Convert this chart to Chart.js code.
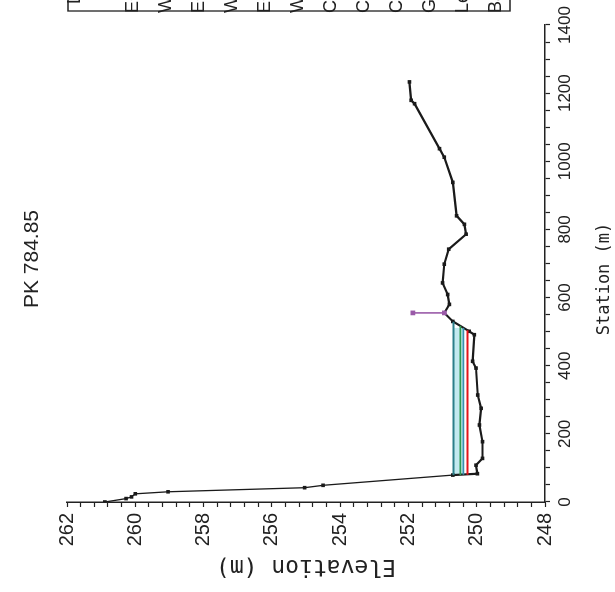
<!DOCTYPE html>
<html>
<head>
<meta charset="utf-8">
<script src="https://cdn.jsdelivr.net/npm/chart.js@4.4.1/dist/chart.umd.min.js"></script>
<style>
html, body { margin: 0; padding: 0; background: #fff; overflow: hidden; }
/* the scan is turned a quarter turn, so the whole chart is drawn upright and then rotated */
#wrap { position: absolute; left: 0; top: 0; width: 592px; height: 615px;
        transform-origin: 0 0; transform: translate(0, 592px) rotate(-90deg); }
</style>
</head>
<body>
<div id="wrap"><canvas id="xs" width="592" height="615"></canvas></div>
<script>
const plotTitle = 'PK 784.85';

// ground profile
const groundStation = [0, 10, 15, 24, 30, 42, 49, 79, 83, 108, 128, 177, 226, 275, 314, 393, 413, 491, 501,
                       530, 555, 580, 609, 643, 698, 742, 786, 815, 840, 938, 1012, 1037, 1169, 1179, 1233];
const groundElev = [260.89, 260.27, 260.11, 260.0, 259.04, 255.04, 254.5, 250.7, 249.98, 250.02, 249.83, 249.83,
                    249.92, 249.87, 249.97, 250.02, 250.12, 250.07, 250.22, 250.7, 250.95, 250.8, 250.85, 251.0,
                    250.95, 250.82, 250.31, 250.36, 250.59, 250.7, 250.95, 251.09, 251.82, 251.92, 251.97];

// water surface / energy lines
const profNames = ['EG PF 1', 'EG PF 2', 'WS PF 1', 'Crit PF 1'];
const profElev = [250.68, 250.48, 250.39, 250.27];
const profStart = [79, 79, 80, 80];
const profEnd = [529, 517, 511, 504];
const profColors = ['#2b7f8a', '#2f9a4f', '#3a8fb0', '#e3141b'];

// levee
const leveeStation = [555, 555];
const leveeElev = [250.95, 251.87];

const legendNames = ['EG PF 3', 'WS PF 3', 'EG PF 2', 'WS PF 2', 'EG PF 1', 'WS PF 1',
                     'Crit PF 3', 'Crit PF 2', 'Crit PF 1', 'Ground', 'Levee', 'Bank Sta'];

const fam = '"Liberation Sans", Arial, sans-serif';
const mono = '"DejaVu Sans Mono", "Liberation Mono", monospace';
const ink = '#222';

let datasets = [];
profNames.forEach((n, i) => datasets.push({
    label: n,
    data: [{x: profStart[i], y: profElev[i]}, {x: profEnd[i], y: profElev[i]}],
    borderColor: profColors[i],
    borderWidth: 1.8,
    pointRadius: 0,
    fill: i === 0 ? {target: 2} : false,
    backgroundColor: '#c3eaf0'
}));
datasets.push({
    label: 'Levee',
    data: leveeStation.map((s, i) => ({x: s, y: leveeElev[i]})),
    borderColor: '#9a5aa8',
    backgroundColor: '#9a5aa8',
    borderWidth: 1.6,
    pointStyle: 'rect',
    pointRadius: 2.2
});
datasets.push({
    label: 'Ground',
    data: groundStation.map((s, i) => ({x: s, y: groundElev[i]})),
    borderColor: '#1a1a1a',
    backgroundColor: '#1a1a1a',
    pointStyle: 'rect',
    pointRadius: 1,
    borderWidth: 2.2,
    segment: {
        borderWidth: ctx => ctx.p0.parsed.x < 79 ? 1.3 : 2.2
    }
});

// title, station label and the cut-off legend box at the right edge
const extras = {
    id: 'extras',
    afterDraw(chart) {
        const c = chart.ctx;
        c.save();
        c.fillStyle = ink;
        c.font = '21px ' + fam;
        c.textAlign = 'center';
        c.textBaseline = 'middle';
        c.fillText(plotTitle, 333, 32);

        c.font = '17px ' + mono;
        c.fillText('Station (m)', 313, 605);

        c.strokeStyle = ink;
        c.lineWidth = 1.3;
        c.beginPath();
        c.moveTo(592, 68);
        c.lineTo(581, 68);
        c.lineTo(581, 510);
        c.lineTo(592, 510);
        c.stroke();

        c.textAlign = 'left';
        c.font = '18px ' + fam;
        c.fillText('Legend', 588, 75);
        legendNames.forEach((n, i) => c.fillText(n, 579, 133 + i * 33));
        c.restore();
    }
};

new Chart(document.getElementById('xs'), {
    type: 'line',
    data: {datasets: datasets},
    plugins: [extras],
    options: {
        responsive: false,
        animation: false,
        layout: {padding: {top: 67, right: 25, left: 0, bottom: 0}},
        plugins: {
            legend: {display: false},
            tooltip: {enabled: false},
            filler: {drawTime: 'beforeDatasetsDraw'}
        },
        scales: {
            x: {
                type: 'linear',
                min: 0,
                max: 1400,
                border: {display: true, color: ink, width: 1.5},
                grid: {drawOnChartArea: false, tickLength: 5, color: ink, tickWidth: 1.2},
                ticks: {
                    stepSize: 50,
                    autoSkip: false,
                    maxRotation: 0,
                    padding: 5,
                    color: ink,
                    font: {family: fam, size: 17},
                    callback: v => v % 200 === 0 ? String(v) : ''
                },
                afterFit: s => { s.height = 70; }
            },
            y: {
                type: 'linear',
                min: 248,
                max: 262,
                border: {display: true, color: ink, width: 1.5},
                grid: {drawOnChartArea: false, tickLength: 5, color: ink, tickWidth: 1.2},
                ticks: {
                    stepSize: 0.4,
                    autoSkip: false,
                    padding: 6,
                    color: ink,
                    font: {family: fam, size: 20},
                    callback: v => Math.abs(v / 2 - Math.round(v / 2)) < 1e-6 ? String(Math.round(v)) : ''
                },
                title: {display: true, text: 'Elevation (m)', color: ink,
                        font: {family: mono, size: 23}, padding: {top: 12, bottom: 0}},
                afterFit: s => { s.width = 90; }
            }
        }
    }
});
</script>
</body>
</html>
